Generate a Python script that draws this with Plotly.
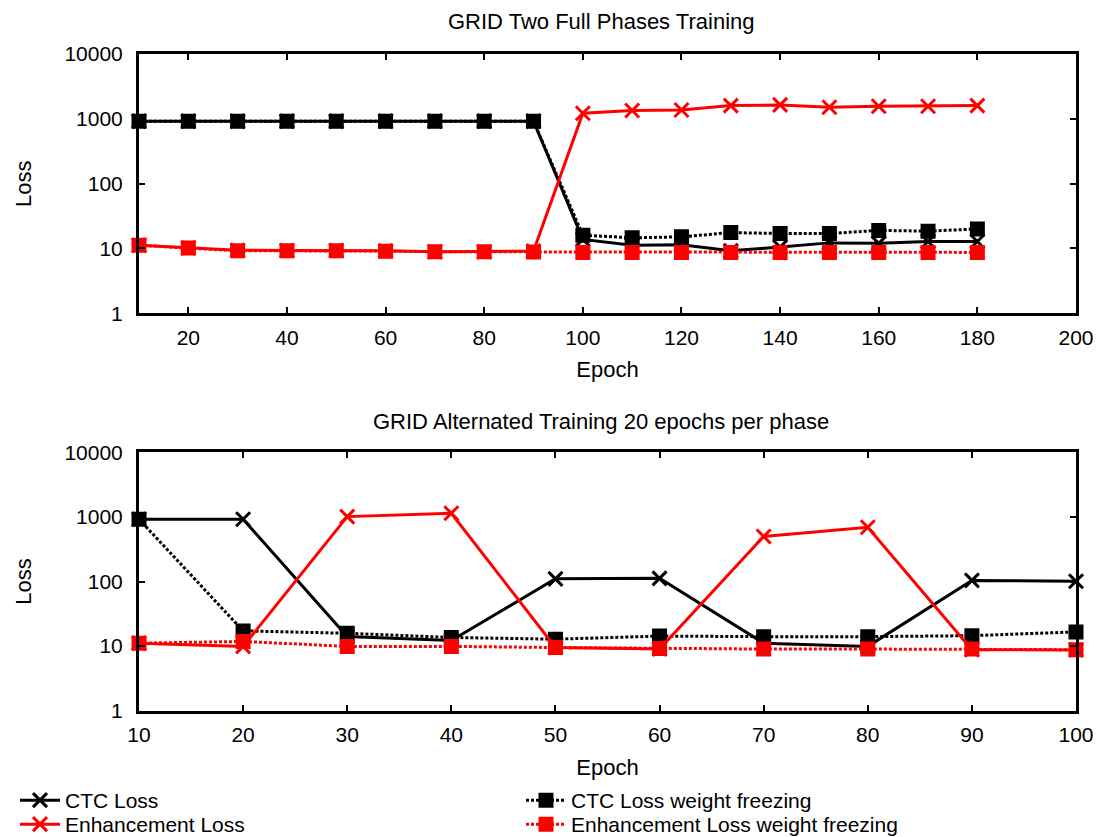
import plotly.graph_objects as go

# ---------------- data ----------------
epochs_full = [10, 20, 30, 40, 50, 60, 70, 80, 90, 100, 110, 120, 130, 140, 150, 160, 170, 180]
ctc_full = [920, 920, 920, 920, 920, 920, 920, 920, 920, 13.8, 11.2, 11.4, 9.2, 10.5, 12.2, 12.0, 12.8, 12.8]
ctc_wf_full = [920, 920, 920, 920, 920, 920, 920, 920, 920, 16, 14.6, 15.1, 17.6, 17.0, 17.0, 19.0, 18.5, 20.0]
enh_full = [11.2, 10.2, 9.4, 9.3, 9.3, 9.2, 8.9, 8.9, 9.1, 1220, 1345, 1370, 1600, 1640, 1510, 1560, 1560, 1600]
enh_wf_full = [11.2, 10.2, 9.2, 9.2, 9.2, 9.1, 8.9, 8.9, 8.8, 8.7, 8.7, 8.7, 8.7, 8.7, 8.7, 8.7, 8.7, 8.7]

epochs_alt = [10, 20, 30, 40, 50, 60, 70, 80, 90, 100]
ctc_alt = [920, 920, 14.1, 12.2, 110, 112, 11.1, 9.9, 104, 101]
ctc_wf_alt = [920, 17.2, 15.8, 13.6, 12.8, 14.3, 14.0, 14.0, 14.5, 16.6]
enh_alt = [11.1, 9.9, 1010, 1140, 9.5, 9.0, 498, 693, 8.8, 8.7]
enh_wf_alt = [11.1, 11.8, 9.9, 9.9, 9.5, 9.2, 9.0, 9.0, 9.0, 8.8]

ytick_vals = [1, 10, 100, 1000, 10000]
ytick_text = ["1", "10", "100", "1000", "10000"]
xtick_full = [20, 40, 60, 80, 100, 120, 140, 160, 180, 200]
xtick_alt = [10, 20, 30, 40, 50, 60, 70, 80, 90, 100]

names = ["CTC Loss", "CTC Loss weight freezing", "Enhancement Loss", "Enhancement Loss weight freezing"]
title_top = "GRID Two Full Phases Training"
title_bot = "GRID Alternated Training 20 epochs per phase"

FONT = "Liberation Sans, Arial, Helvetica, sans-serif"
FS = 21
FT = 22
FL = 21
BLACK = "#000000"
RED = "#ff0000"
W, H = 1100, 837

styles = [
    dict(color=BLACK, dash="solid", symbol="x-thin", msize=14, legend="legend"),
    dict(color=BLACK, dash="3px,2px", symbol="square", msize=12, legend="legend"),
    dict(color=RED, dash="solid", symbol="x-thin", msize=14, legend="legend2"),
    dict(color=RED, dash="3px,2px", symbol="square", msize=12, legend="legend2"),
]

fig = go.Figure()

series_full = [ctc_full, ctc_wf_full, enh_full, enh_wf_full]
series_alt = [ctc_alt, ctc_wf_alt, enh_alt, enh_wf_alt]

for i, (ys, st) in enumerate(zip(series_full, styles)):
    fig.add_trace(go.Scatter(
        x=epochs_full, y=ys, mode="lines+markers", name=names[i],
        line=dict(color=st["color"], width=3, dash=st["dash"]),
        marker=dict(symbol=st["symbol"], size=st["msize"], color=st["color"],
                    line=dict(color=st["color"], width=3)),
        xaxis="x", yaxis="y", cliponaxis=False, showlegend=True,
        legend=st["legend"], legendgroup=str(i),
    ))
for i, (ys, st) in enumerate(zip(series_alt, styles)):
    fig.add_trace(go.Scatter(
        x=epochs_alt, y=ys, mode="lines+markers", name=names[i],
        line=dict(color=st["color"], width=3, dash=st["dash"]),
        marker=dict(symbol=st["symbol"], size=st["msize"], color=st["color"],
                    line=dict(color=st["color"], width=3)),
        xaxis="x2", yaxis="y2", cliponaxis=False, showlegend=False,
        legend=st["legend"], legendgroup=str(i),
    ))

xd = [139 / W, 1076 / W]
yd_top = [(H - 313.3) / H, (H - 54) / H]
yd_bot = [(H - 710.7) / H, (H - 452.3) / H]

axis_common = dict(
    showline=True, linecolor=BLACK, linewidth=3, mirror="ticks",
    ticks="inside", ticklen=6, tickwidth=1.5, tickcolor=BLACK,
    showgrid=False, zeroline=False, automargin=False,
    tickfont=dict(family=FONT, size=FS, color=BLACK),
)

legend_common = dict(
    orientation="h", x=15 / W, xanchor="left", yanchor="top",
    entrywidth=451, entrywidthmode="pixels", itemwidth=40,
    font=dict(family=FONT, size=FL, color=BLACK),
    bgcolor="rgba(0,0,0,0)", traceorder="normal",
)

fig.update_layout(
    width=W, height=H,
    margin=dict(l=0, r=0, t=0, b=0, autoexpand=False),
    paper_bgcolor="white", plot_bgcolor="white",
    font=dict(family=FONT, size=FS, color=BLACK),
    xaxis=dict(domain=xd, anchor="y", range=[10, 200], tickvals=xtick_full,
               ticklabelstandoff=3,
               title=dict(text="Epoch", standoff=15, font=dict(family=FONT, size=FT)),
               **axis_common),
    yaxis=dict(domain=yd_top, anchor="x", type="log", range=[0, 4],
               tickvals=ytick_vals, ticktext=ytick_text, ticklabelstandoff=9,
               title=dict(text="Loss", standoff=27, font=dict(family=FONT, size=FT)),
               **axis_common),
    xaxis2=dict(domain=xd, anchor="y2", range=[10, 100], tickvals=xtick_alt,
                ticklabelstandoff=3,
                title=dict(text="Epoch", standoff=15, font=dict(family=FONT, size=FT)),
                **axis_common),
    yaxis2=dict(domain=yd_bot, anchor="x2", type="log", range=[0, 4],
                tickvals=ytick_vals, ticktext=ytick_text, ticklabelstandoff=9,
                title=dict(text="Loss", standoff=27, font=dict(family=FONT, size=FT)),
                **axis_common),
    legend=dict(y=(H - 780) / H, **legend_common),
    legend2=dict(y=(H - 804) / H, **legend_common),
    annotations=[
        dict(text=title_top, x=601 / W, y=(H - 22) / H, xref="paper", yref="paper",
             showarrow=False, xanchor="center", yanchor="middle",
             font=dict(family=FONT, size=FT, color=BLACK)),
        dict(text=title_bot, x=601 / W, y=(H - 421) / H, xref="paper", yref="paper",
             showarrow=False, xanchor="center", yanchor="middle",
             font=dict(family=FONT, size=FT, color=BLACK)),
    ],
)

fig.write_html("out.html")
